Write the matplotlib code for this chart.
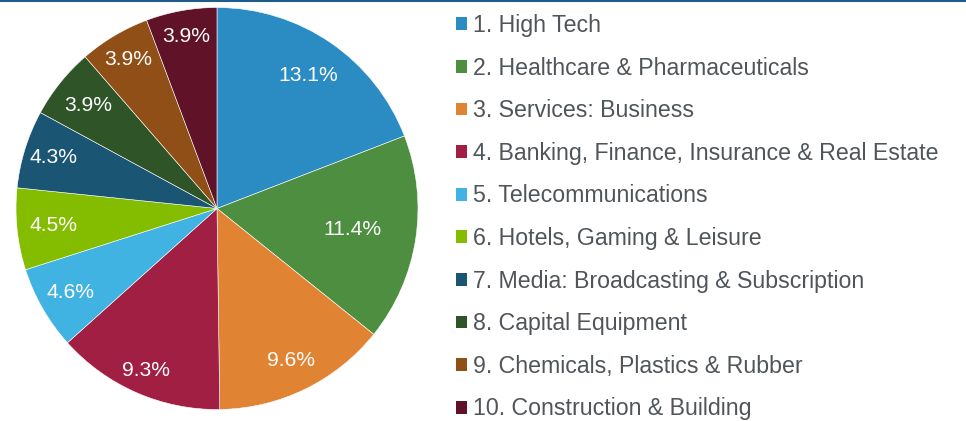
import numpy as np
import matplotlib.pyplot as plt
from matplotlib.patches import Patch
from matplotlib.lines import Line2D

plt.rcParams['font.family'] = ['Liberation Sans', 'DejaVu Sans']

industries = [
    "1. High Tech",
    "2. Healthcare & Pharmaceuticals",
    "3. Services: Business",
    "4. Banking, Finance, Insurance & Real Estate",
    "5. Telecommunications",
    "6. Hotels, Gaming & Leisure",
    "7. Media: Broadcasting & Subscription",
    "8. Capital Equipment",
    "9. Chemicals, Plastics & Rubber",
    "10. Construction & Building",
]
shares = [13.1, 11.4, 9.6, 9.3, 4.6, 4.5, 4.3, 3.9, 3.9, 3.9]
colors = ["#2B8CC4", "#4E8E41", "#E08434", "#A01F43", "#41B3E3",
          "#84BC00", "#1B5574", "#2F5427", "#8F4F16", "#5F1228"]

# radial position of each percent label (fraction of radius)
label_r = [0.80, 0.68, 0.84, 0.88, 0.84, 0.82, 0.85, 0.82, 0.86, 0.87]

W, H = 966, 421
fig = plt.figure(figsize=(W / 100, H / 100), dpi=100)

cx, cy, r = 217, 208.5, 201
ax = fig.add_axes([(cx - r) / W, (H - cy - r) / H, 2 * r / W, 2 * r / H])

wedges, _ = ax.pie(shares, colors=colors, startangle=90, counterclock=False,
                   radius=1, wedgeprops=dict(edgecolor="white", linewidth=0.4))

for v, w, d in zip(shares, wedges, label_r):
    mid = np.deg2rad((w.theta1 + w.theta2) / 2)
    ax.text(d * np.cos(mid), d * np.sin(mid), f"{v:.1f}%", color="white",
            fontsize=15.2, ha="center", va="center")

ax.set_xlim(-1, 1)
ax.set_ylim(-1, 1)
ax.set_aspect("equal")
ax.axis("off")

handles = [Patch(facecolor=c, edgecolor="none") for c in colors]
fig.legend(handles, industries, loc="upper left",
           bbox_to_anchor=(456 / W, 1 - 14 / H), frameon=False,
           fontsize=16.7, labelcolor="#50555A", borderpad=0, borderaxespad=0,
           handlelength=0.47, handleheight=0.47, handletextpad=0.25,
           labelspacing=0.845)

# thin rule along the top edge
fig.add_artist(Line2D([0, 1], [1 - 1 / H, 1 - 1 / H], color="#1F5C8C",
                      linewidth=1.5, transform=fig.transFigure))

fig.savefig("out.png", dpi=100)
